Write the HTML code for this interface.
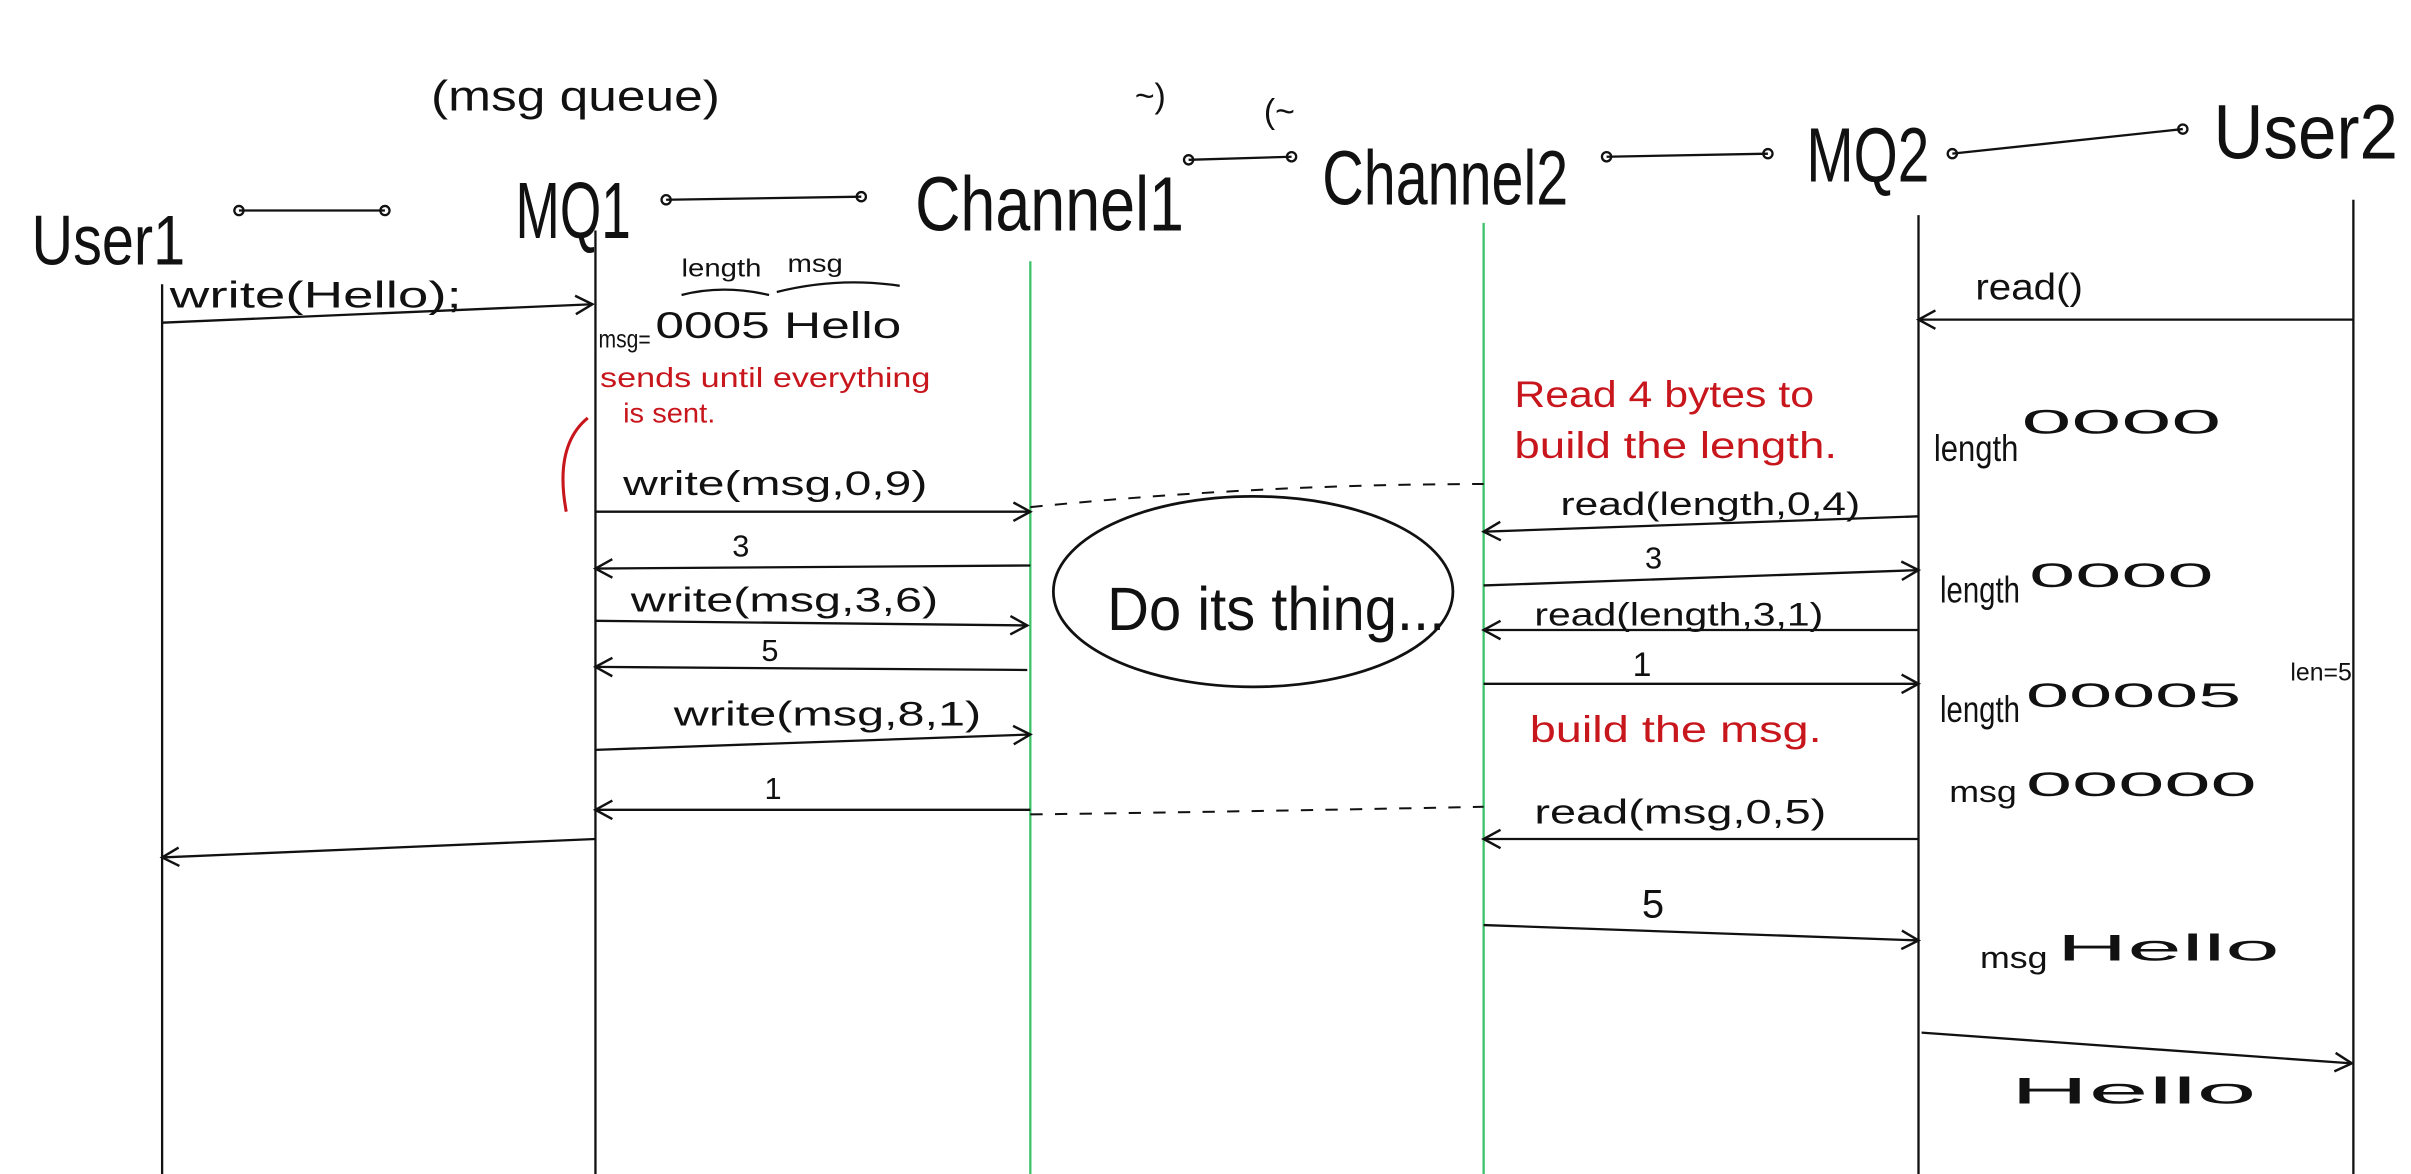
<!DOCTYPE html>
<html><head><meta charset="utf-8"><style>
html,body{margin:0;padding:0;background:#fff;}
svg{display:block;}
text{font-family:"Liberation Sans",sans-serif;fill:#111;}
.r{fill:#c8161d;}
</style></head><body>
<svg width="2411" height="1174" viewBox="0 0 1568 764" xmlns="http://www.w3.org/2000/svg">
<defs><marker id="a" markerWidth="14" markerHeight="14" refX="12" refY="7" orient="auto" markerUnits="userSpaceOnUse"><path d="M1,1 L12,7 L1,13" fill="none" stroke="#111" stroke-width="1.6"/></marker></defs>
<g stroke="#111" stroke-width="1.5" fill="none">
<line x1="105" y1="185" x2="105" y2="764"/>
<line x1="387" y1="150" x2="387" y2="764"/>
<line x1="1248" y1="140" x2="1248" y2="764"/>
<line x1="1531" y1="130" x2="1531" y2="764"/>
</g>
<g stroke="#3cc36a" stroke-width="1.5"><line x1="670" y1="170" x2="670" y2="764"/><line x1="965" y1="145" x2="965" y2="764"/></g>
<g lengthAdjust="spacingAndGlyphs">
<text x="20" y="172" font-size="46" textLength="100" lengthAdjust="spacingAndGlyphs">User1</text>
<text x="335" y="155" font-size="52" textLength="75" lengthAdjust="spacingAndGlyphs">MQ1</text>
<text x="595" y="150" font-size="50" textLength="175" lengthAdjust="spacingAndGlyphs">Channel1</text>
<text x="860" y="133" font-size="50" textLength="160" lengthAdjust="spacingAndGlyphs">Channel2</text>
<text x="1175" y="118" font-size="50" textLength="80" lengthAdjust="spacingAndGlyphs">MQ2</text>
<text x="1440" y="103" font-size="50" textLength="120" lengthAdjust="spacingAndGlyphs">User2</text>
<text x="280" y="72" font-size="28" textLength="188" lengthAdjust="spacingAndGlyphs">(msg queue)</text>
</g>
<text x="738" y="70" font-size="22">~)</text><text x="822" y="80" font-size="22">(~</text>
<g stroke="#111" stroke-width="1.5" fill="none">
<line x1="155" y1="137" x2="250" y2="137"/><circle cx="155" cy="137" r="3"/><circle cx="250" cy="137" r="3"/>
<line x1="433" y1="130" x2="560" y2="128"/><circle cx="433" cy="130" r="3"/><circle cx="560" cy="128" r="3"/>
<line x1="773" y1="104" x2="840" y2="102"/><circle cx="773" cy="104" r="3"/><circle cx="840" cy="102" r="3"/>
<line x1="1045" y1="102" x2="1150" y2="100"/><circle cx="1045" cy="102" r="3"/><circle cx="1150" cy="100" r="3"/>
<line x1="1270" y1="100" x2="1420" y2="84"/><circle cx="1270" cy="100" r="3"/><circle cx="1420" cy="84" r="3"/>
</g>
<g stroke="#111" stroke-width="1.5" fill="none" marker-end="url(#a)">
<line x1="105" y1="210" x2="385" y2="198"/>
<line x1="387" y1="333" x2="670" y2="333"/>
<line x1="670" y1="368" x2="387" y2="370"/>
<line x1="387" y1="404" x2="668" y2="407"/>
<line x1="668" y1="436" x2="387" y2="434"/>
<line x1="387" y1="488" x2="670" y2="478"/>
<line x1="670" y1="527" x2="387" y2="527"/>
<line x1="387" y1="546" x2="105" y2="558"/>
<line x1="1248" y1="336" x2="965" y2="346"/>
<line x1="965" y1="381" x2="1248" y2="371"/>
<line x1="1248" y1="410" x2="965" y2="410"/>
<line x1="965" y1="445" x2="1248" y2="445"/>
<line x1="1248" y1="546" x2="965" y2="546"/>
<line x1="965" y1="602" x2="1248" y2="612"/>
<line x1="1531" y1="208" x2="1248" y2="208"/>
<line x1="1250" y1="672" x2="1530" y2="692"/>
</g>
<g stroke="#111" stroke-width="1.3" fill="none" stroke-dasharray="8,8">
<path d="M670,330 Q820,315 965,315"/><path d="M670,530 Q820,528 965,525"/>
</g>
<ellipse cx="815" cy="385" rx="130" ry="62" fill="none" stroke="#111" stroke-width="1.8"/>
<text x="720" y="410" font-size="40" textLength="220" lengthAdjust="spacingAndGlyphs">Do its thing...</text>
<text x="110" y="200" font-size="24" textLength="190" lengthAdjust="spacingAndGlyphs">write(Hello);</text>
<text x="443" y="180" font-size="16" textLength="52" lengthAdjust="spacingAndGlyphs">length</text><text x="512" y="177" font-size="16" textLength="36" lengthAdjust="spacingAndGlyphs">msg</text>
<path d="M443,192 Q470,185 500,192 M505,190 Q545,180 585,186" stroke="#111" fill="none" stroke-width="1.5"/>
<text x="389" y="226" font-size="16" textLength="34" lengthAdjust="spacingAndGlyphs">msg=</text>
<text x="426" y="220" font-size="24" textLength="160" lengthAdjust="spacingAndGlyphs">0005 Hello</text>
<text x="405" y="322" font-size="22" textLength="198" lengthAdjust="spacingAndGlyphs">write(msg,0,9)</text>
<text x="476" y="362" font-size="20">3</text>
<text x="410" y="398" font-size="22" textLength="200" lengthAdjust="spacingAndGlyphs">write(msg,3,6)</text>
<text x="495" y="430" font-size="20">5</text>
<text x="438" y="472" font-size="22" textLength="200" lengthAdjust="spacingAndGlyphs">write(msg,8,1)</text>
<text x="497" y="520" font-size="20">1</text>
<text x="1015" y="335" font-size="21" textLength="195" lengthAdjust="spacingAndGlyphs">read(length,0,4)</text>
<text x="1070" y="370" font-size="20">3</text>
<text x="998" y="407" font-size="21" textLength="188" lengthAdjust="spacingAndGlyphs">read(length,3,1)</text>
<text x="1062" y="440" font-size="22">1</text>
<text x="998" y="536" font-size="22" textLength="190" lengthAdjust="spacingAndGlyphs">read(msg,0,5)</text>
<text x="1068" y="597" font-size="26">5</text>
<text x="1285" y="195" font-size="24" textLength="70" lengthAdjust="spacingAndGlyphs">read()</text>
<text x="1258" y="300" font-size="24" textLength="55" lengthAdjust="spacingAndGlyphs">length</text><text x="1315" y="282" font-size="22" textLength="130" lengthAdjust="spacingAndGlyphs">0000</text>
<text x="1262" y="392" font-size="24" textLength="52" lengthAdjust="spacingAndGlyphs">length</text><text x="1320" y="382" font-size="22" textLength="120" lengthAdjust="spacingAndGlyphs">0000</text>
<text x="1262" y="470" font-size="24" textLength="52" lengthAdjust="spacingAndGlyphs">length</text><text x="1318" y="460" font-size="22" textLength="140" lengthAdjust="spacingAndGlyphs">00005</text><text x="1490" y="443" font-size="16" textLength="40" lengthAdjust="spacingAndGlyphs">len=5</text>
<text x="1268" y="522" font-size="20" textLength="44" lengthAdjust="spacingAndGlyphs">msg</text><text x="1318" y="518" font-size="22" textLength="150" lengthAdjust="spacingAndGlyphs">00000</text>
<text x="1288" y="630" font-size="20" textLength="44" lengthAdjust="spacingAndGlyphs">msg</text><text x="1338" y="625" font-size="24" textLength="145" lengthAdjust="spacingAndGlyphs">Hello</text>
<text x="1308" y="718" font-size="24" textLength="160" lengthAdjust="spacingAndGlyphs">Hello</text>
<text class="r" x="390" y="252" font-size="18" textLength="215" lengthAdjust="spacingAndGlyphs">sends until everything</text>
<text class="r" x="405" y="275" font-size="18" textLength="60" lengthAdjust="spacingAndGlyphs">is sent.</text>
<path d="M382,272 Q360,290 368,333" stroke="#c8161d" stroke-width="2" fill="none"/>
<text class="r" x="985" y="265" font-size="24" textLength="195" lengthAdjust="spacingAndGlyphs">Read 4 bytes to</text>
<text class="r" x="985" y="298" font-size="24" textLength="210" lengthAdjust="spacingAndGlyphs">build the length.</text>
<text class="r" x="995" y="483" font-size="24" textLength="190" lengthAdjust="spacingAndGlyphs">build the msg.</text>
</svg>
</body></html>
